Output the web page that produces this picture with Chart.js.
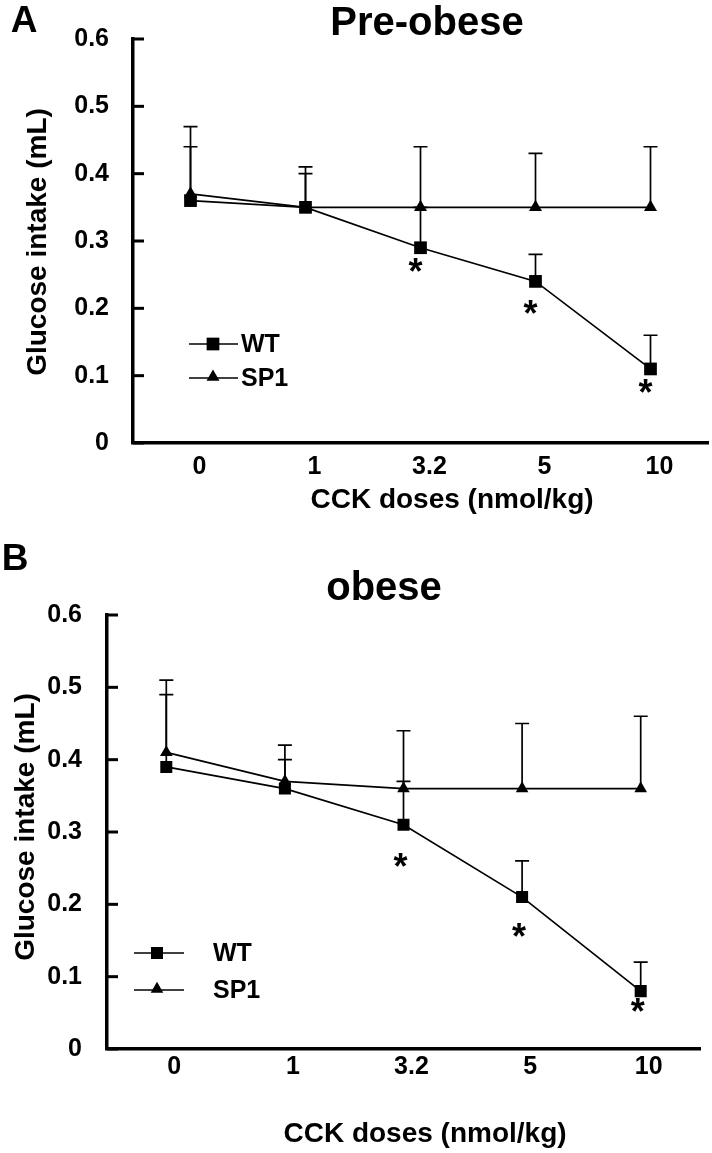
<!DOCTYPE html>
<html><head><meta charset="utf-8">
<script src="https://cdn.jsdelivr.net/npm/chart.js@4/dist/chart.umd.min.js"></script>
<style>
html,body{margin:0;padding:0;background:#fff;}
#wrap{position:relative;width:712px;height:1153px;overflow:hidden;background:#fff;}
canvas{position:absolute;left:0;}
</style></head><body>
<div id="wrap">
<canvas id="cA" width="712" height="540" style="top:0"></canvas>
<canvas id="cB" width="712" height="613" style="top:540px"></canvas>
</div>
<script>
// ---- data ----
const categories = ['0', '1', '3.2', '5', '10'];
const yTickLabels = ['0', '0.1', '0.2', '0.3', '0.4', '0.5', '0.6'];
const seriesNames = ['WT', 'SP1'];

const preWT = [0.36, 0.35, 0.29, 0.24, 0.11];
const preSP1 = [0.37, 0.35, 0.35, 0.35, 0.35];
const preWTUpper = [0.44, 0.40, 0.35, 0.28, 0.16];
const preSP1Upper = [0.47, 0.41, 0.44, 0.43, 0.44];
const preStars = [null, null, 0.265, 0.202, 0.084];

const obWT = [0.39, 0.36, 0.31, 0.21, 0.08];
const obSP1 = [0.41, 0.37, 0.36, 0.36, 0.36];
const obWTUpper = [0.49, 0.40, 0.37, 0.26, 0.12];
const obSP1Upper = [0.51, 0.42, 0.44, 0.45, 0.46];
const obStars = [null, null, 0.261, 0.165, 0.061];

const FONT = "'Liberation Sans', Arial, Helvetica, sans-serif";

function drawMarker(ctx, style, x, y, r) {
  ctx.beginPath();
  if (style === 'rect') {
    const s = Math.SQRT1_2 * r;
    ctx.rect(x - s, y - s, 2 * s, 2 * s);
  } else {
    for (let k = 0; k < 3; k++) {
      const a = k * 2 * Math.PI / 3;
      const px = x + Math.sin(a) * r, py = y - Math.cos(a) * r;
      if (k === 0) ctx.moveTo(px, py); else ctx.lineTo(px, py);
    }
    ctx.closePath();
  }
  ctx.fill();
}

function makePanel(id, p) {
  const extras = {
    id: 'extras',
    beforeDatasetsDraw(chart) {
      const {ctx, scales: {x, y}} = chart;
      ctx.save();
      ctx.strokeStyle = '#000';
      ctx.lineWidth = 1.7;
      [[p.wt, p.wtUp], [p.sp, p.spUp]].forEach(([m, up]) => {
        m.forEach((v, i) => {
          const px = x.getPixelForValue(i);
          const y0 = y.getPixelForValue(v), y1 = y.getPixelForValue(up[i]);
          ctx.beginPath();
          ctx.moveTo(px, y0); ctx.lineTo(px, y1);
          ctx.moveTo(px - p.cap, y1); ctx.lineTo(px + p.cap, y1);
          ctx.stroke();
        });
      });
      ctx.restore();
    },
    afterDraw(chart) {
      const {ctx, scales: {x, y}, chartArea} = chart;
      ctx.save();
      ctx.fillStyle = '#000';
      ctx.strokeStyle = '#000';
      // inward y ticks
      ctx.lineWidth = 3;
      y.ticks.forEach(t => {
        const py = y.getPixelForValue(t.value);
        ctx.beginPath();
        ctx.moveTo(chartArea.left, py);
        ctx.lineTo(chartArea.left + 11, py);
        ctx.stroke();
      });
      // asterisks
      ctx.font = 'bold 36px ' + FONT;
      ctx.textAlign = 'center';
      ctx.textBaseline = 'alphabetic';
      const m = ctx.measureText('*');
      p.stars.forEach((v, i) => {
        if (v == null) return;
        const px = x.getPixelForValue(i) + p.starDx;
        const py = y.getPixelForValue(v);
        ctx.fillText('*', px, py + (m.actualBoundingBoxAscent - m.actualBoundingBoxDescent) / 2);
      });
      // legend
      const L = p.legend;
      [['rect', L.yWT, seriesNames[0], p.rRect], ['triangle', L.ySP, seriesNames[1], p.rTri]].forEach(([st, ly, name, r]) => {
        ctx.lineWidth = 1.7;
        ctx.beginPath(); ctx.moveTo(L.x1, ly); ctx.lineTo(L.x2, ly); ctx.stroke();
        drawMarker(ctx, st, L.xm, st === 'triangle' ? ly - 1 : ly, r);
        ctx.font = 'bold 25px ' + FONT;
        ctx.textAlign = 'left';
        ctx.textBaseline = 'middle';
        ctx.fillText(name, L.xt, ly + 1);
      });
      // panel letter
      ctx.font = 'bold 37px ' + FONT;
      ctx.textAlign = 'center';
      ctx.textBaseline = 'alphabetic';
      ctx.fillText(p.letter.text, p.letter.x, p.letter.y);
      // title
      ctx.font = 'bold 40px ' + FONT;
      ctx.fillText(p.title.text, p.title.x, p.title.y);
      // x title
      ctx.font = 'bold 28px ' + FONT;
      ctx.textBaseline = 'middle';
      ctx.fillText('CCK doses (nmol/kg)', p.xTitle.x, p.xTitle.y);
      // y title
      ctx.translate(p.yTitle.x, p.yTitle.y);
      ctx.rotate(-Math.PI / 2);
      ctx.fillText('Glucose intake (mL)', 0, 0);
      ctx.restore();
    }
  };

  return new Chart(document.getElementById(id), {
    type: 'line',
    data: {
      labels: categories,
      datasets: [
        {label: seriesNames[0], data: p.wt, borderColor: '#000', borderWidth: 1.7,
         pointStyle: 'rect', pointRadius: p.rRect, pointBackgroundColor: '#000', pointBorderWidth: 0, tension: 0},
        {label: seriesNames[1], data: p.sp, borderColor: '#000', borderWidth: 1.7,
         pointStyle: 'triangle', pointRadius: p.rTri, pointBackgroundColor: '#000', pointBorderWidth: 0, tension: 0}
      ]
    },
    options: {
      responsive: false,
      animation: false,
      devicePixelRatio: 1,
      layout: {autoPadding: false, padding: {top: p.area.top, right: p.area.right, left: 0, bottom: 0}},
      plugins: {legend: {display: false}, tooltip: {enabled: false}, title: {display: false}},
      scales: {
        x: {
          type: 'category',
          offset: true,
          grid: {display: false, drawTicks: false},
          border: {display: true, color: '#000', width: 3.5},
          ticks: {color: '#000', font: {family: FONT, size: 25, weight: 'bold'}, padding: p.xPad,
                  labelOffset: p.labelOffset, autoSkip: false, maxRotation: 0},
          afterFit: s => { s.height = p.area.xh; }
        },
        y: {
          min: 0, max: 0.6,
          grid: {display: false, drawTicks: false},
          border: {display: true, color: '#000', width: 3.5},
          ticks: {stepSize: 0.1, color: '#000', font: {family: FONT, size: 25, weight: 'bold'}, padding: p.yPad,
                  callback: (v, i) => yTickLabels[i]},
          afterFit: s => { s.width = p.area.left; }
        }
      }
    },
    plugins: [extras]
  });
}

makePanel('cA', {
  wt: preWT, sp: preSP1, wtUp: preWTUpper, spUp: preSP1Upper, stars: preStars, starDx: -5,
  cap: 7, rRect: 9, rTri: 7.5,
  area: {left: 133, top: 13, right: 4, xh: 97},
  xPad: 9, yPad: 24, labelOffset: 9,
  legend: {x1: 189, x2: 238, xm: 213, xt: 241, yWT: 344, ySP: 378},
  letter: {text: 'A', x: 24, y: 32},
  title: {text: 'Pre-obese', x: 427, y: 35},
  xTitle: {x: 452, y: 500},
  yTitle: {x: 38, y: 242}
});

makePanel('cB', {
  wt: obWT, sp: obSP1, wtUp: obWTUpper, spUp: obSP1Upper, stars: obStars, starDx: -3,
  cap: 7, rRect: 8.5, rTri: 7.3,
  area: {left: 107, top: 75, right: 12, xh: 104},
  xPad: 3, yPad: 25, labelOffset: 8,
  legend: {x1: 134, x2: 184, xm: 157, xt: 213, yWT: 413, ySP: 450},
  letter: {text: 'B', x: 15, y: 30},
  title: {text: 'obese', x: 384, y: 60},
  xTitle: {x: 425, y: 594},
  yTitle: {x: 26, y: 287}
});
</script>
</body></html>
